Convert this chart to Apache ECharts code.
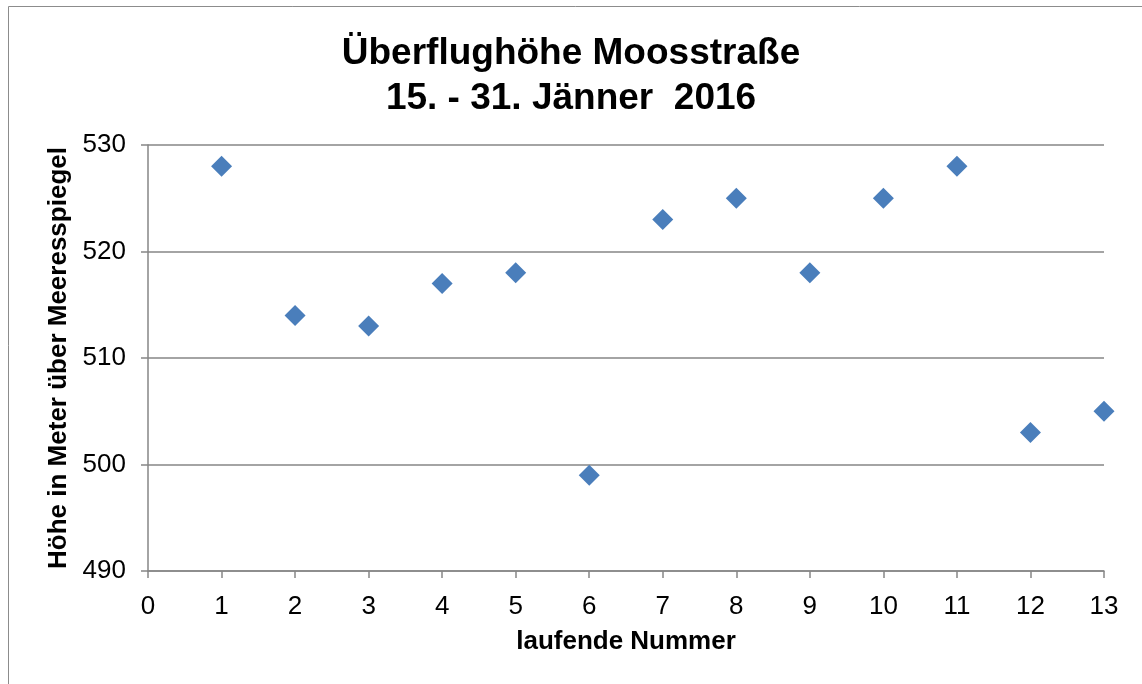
<!DOCTYPE html>
<html>
<head>
<meta charset="utf-8">
<script src="https://cdn.jsdelivr.net/npm/echarts@6/dist/echarts.min.js"></script>
<style>
  html, body { margin: 0; padding: 0; background: #fff; }
  #chart { width: 1142px; height: 684px; }
</style>
</head>
<body>
<div id="chart"></div>
<script>
// laufende Nummer und Überflughöhe (m ü. M.)
var nummer = [1, 2, 3, 4, 5, 6, 7, 8, 9, 10, 11, 12, 13];
var hoehe = [528, 514, 513, 517, 518, 499, 523, 525, 518, 525, 528, 503, 505];

var chart = echarts.init(document.getElementById('chart'));

var points = [];
for (var i = 0; i < nummer.length; i++) {
    points.push([nummer[i], hoehe[i]]);
}

var font = 'Liberation Sans, Arial, sans-serif';

chart.setOption({
    backgroundColor: '#fff',
    animation: false,
    title: {
        text: 'Überflughöhe Moosstraße\n15. - 31. Jänner  2016',
        left: 'center',
        top: 26,
        textStyle: {
            fontFamily: font,
            fontSize: 37,
            fontWeight: 'bold',
            color: '#000',
            lineHeight: 45
        }
    },
    graphic: [{
        type: 'rect',
        shape: { x: 8.5, y: 6.5, width: 1200, height: 700 },
        style: { fill: 'none', stroke: '#8c8c8c', lineWidth: 1 },
        silent: true
    }],
    grid: { left: 148, right: 38, top: 145, bottom: 113 },
    xAxis: {
        type: 'value',
        min: 0,
        max: 13,
        interval: 1,
        name: 'laufende Nummer',
        nameLocation: 'middle',
        nameGap: 58,
        nameTextStyle: { fontFamily: font, fontSize: 26, fontWeight: 'bold', color: '#000' },
        axisLine: { show: true, lineStyle: { color: '#868686', width: 1.5 } },
        axisTick: { show: true, length: 7, lineStyle: { color: '#868686', width: 1.5 } },
        axisLabel: { fontFamily: font, fontSize: 26, color: '#000', margin: 23 },
        splitLine: { show: false }
    },
    yAxis: {
        type: 'value',
        min: 490,
        max: 530,
        interval: 10,
        name: 'Höhe in Meter über Meeresspiegel',
        nameLocation: 'middle',
        nameGap: 74,
        nameTextStyle: { fontFamily: font, fontSize: 26, fontWeight: 'bold', color: '#000' },
        axisLine: { show: true, lineStyle: { color: '#868686', width: 1.5 } },
        axisTick: { show: true, length: 7, lineStyle: { color: '#868686', width: 1.5 } },
        axisLabel: { fontFamily: font, fontSize: 26, color: '#000', margin: 22 },
        splitLine: { show: true, lineStyle: { color: '#868686', width: 1.5 } }
    },
    series: [{
        type: 'scatter',
        data: points,
        symbol: 'diamond',
        symbolSize: 21,
        itemStyle: { color: '#4a7ebb', opacity: 1 }
    }]
});
</script>
</body>
</html>
